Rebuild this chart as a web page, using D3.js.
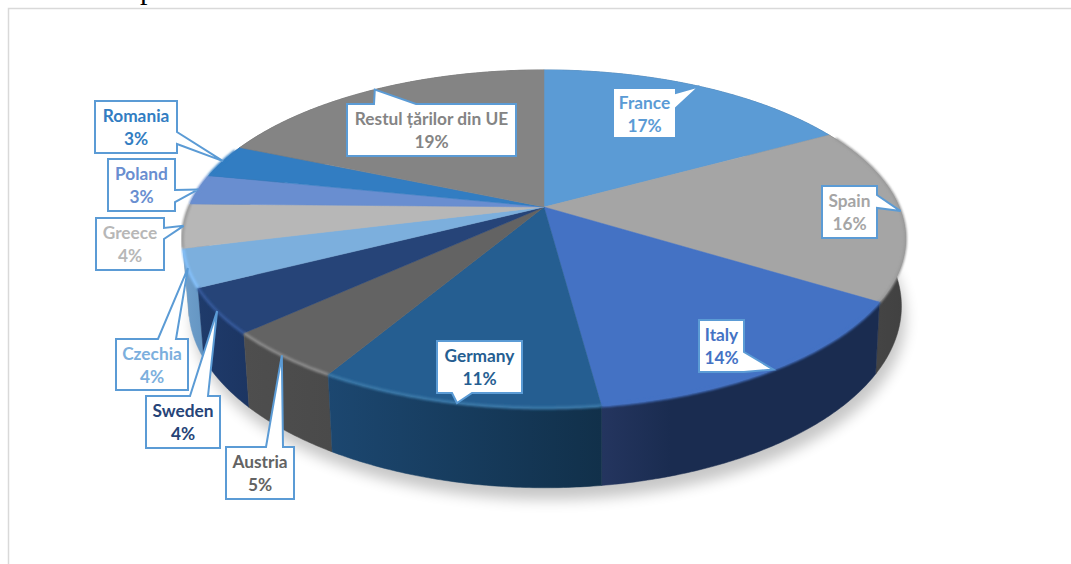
<!DOCTYPE html>
<html lang="ro">
<head>
<meta charset="utf-8">
<title>Pie</title>
<script src="https://d3js.org/d3.v7.min.js"></script>
<style>
  html, body { margin: 0; padding: 0; background: #fff; overflow: hidden; }
  svg { display: block; }
  .callout text { font-family: Lato, "Open Sans", sans-serif; font-weight: 700; font-size: 17.3px; text-anchor: middle; }
  .clipped { font-family: "Liberation Serif", serif; font-size: 30px; fill: #000; }
</style>
</head>
<body>
<svg width="1071" height="564"></svg>
<script>
// shares, clockwise from 12 o'clock
var countries = ["France", "Spain", "Italy", "Germany", "Austria", "Sweden", "Czechia", "Greece", "Poland", "Romania", "Restul țărilor din UE"];
var shares = [17.0, 16.8, 14.1, 10.6, 4.7, 4.3, 3.6, 4.2, 2.9, 3.2, 18.6];
// as printed on the chart
var printedPct = ["17%", "16%", "14%", "11%", "5%", "4%", "4%", "4%", "3%", "3%", "19%"];

var topColors = ["#5b9bd5", "#a5a5a5", "#4472c4", "#255e91", "#636363", "#264478", "#7cafdd", "#b7b7b7", "#698ed0", "#327dc2", "#848484"];
var sideLeft = ["#3d6c96", "#4a4a4a", "#24355f", "#1c4770", "#4e4e4e", "#1f3b6b", "#6f9fcb", "#9a9a9a", "#4a6491", "#235888", "#5c5c5c"];
var sideRight = ["#3d6c96", "#414141", "#1a2c50", "#11304a", "#4a4a4a", "#1c3562", "#6495c2", "#9a9a9a", "#4a6491", "#235888", "#5c5c5c"];
var sideBend = [1, 1, 0.25, 1, 1, 1, 1, 1, 1, 1, 1];
var rimColors = ["#5b9bd5", "#9c9c9c", "#4472c4", "#3a78a8", "#8a8a8a", "#34589a", "#84c0fa", "#9e9e9e", "#698ed0", "#327dc2", "#848484"];

// callout boxes: x0, y0, x1, y1, edge the wedge sits on, wedge start, wedge end
var boxes = [
  [613, 88, 676, 138, "right", 93, 108],
  [822, 186, 877, 238, "right", 195, 208],
  [699, 320, 744, 372, "right", 352, 372],
  [437, 341, 522, 393, "bottom", 452, 472],
  [226, 447, 294, 499, "top", 266, 283],
  [146, 396, 220, 448, "top", 190, 208],
  [116, 339, 188, 390, "top", 158, 176],
  [96, 218, 164, 270, "right", 228, 239],
  [108, 159, 175, 211, "right", 190, 202],
  [95, 101, 177, 153, "right", 132, 144],
  [347, 104, 516, 156, "top", 374, 416]
];

var svg = d3.select("svg");
var defs = svg.append("defs");

var soft = defs.append("filter").attr("id", "soft").attr("x", "-10%").attr("y", "-10%").attr("width", "120%").attr("height", "120%");
soft.append("feGaussianBlur").attr("stdDeviation", 7);
var rimBlur = defs.append("filter").attr("id", "rimBlur").attr("x", "-10%").attr("y", "-10%").attr("width", "120%").attr("height", "120%");
rimBlur.append("feGaussianBlur").attr("stdDeviation", 1);

// page frame the chart object sits in
svg.append("path").attr("d", "M8.5,564V8.5H1071").attr("fill", "none").attr("stroke", "#d9d9d9").attr("stroke-width", 1.5);

// leftover of the document text above the chart, cut at the frame
var clip = defs.append("clipPath").attr("id", "topClip");
clip.append("rect").attr("x", 0).attr("y", 0).attr("width", 1071).attr("height", 8);
var leftover = svg.append("g").attr("clip-path", "url(#topClip)");
leftover.append("text").attr("class", "clipped").attr("x", 140).attr("y", -1).text("p");
leftover.append("text").attr("class", "clipped").attr("x", 217).attr("y", -6).text("g");
leftover.append("text").attr("class", "clipped").attr("x", 536).attr("y", -5).text(",");

// perspective disc: unit circle -> screen
var k = 0.189;
var topDisc = { cx: 544, cy: 207, b: 355, a: 163 };
var baseDisc = { cx: 545, cy: 272, b: 350, a: 175 };

function project(disc, angle, r) {
  var u = r * Math.sin(angle), v = -r * Math.cos(angle), w = 1 - k * v;
  return [disc.cx + disc.b * u / w, disc.cy + disc.a * v / w];
}
function arcPoints(disc, a0, a1) {
  var n = Math.max(2, Math.ceil((a1 - a0) / 0.01));
  return d3.range(n + 1).map(function(i) { return project(disc, a0 + (a1 - a0) * i / n, 1); });
}

var pie = d3.pie().sort(null).value(function(d) { return d; });
var slices = pie(shares);
var line = d3.line();

// shadow under the pie
svg.append("path")
  .attr("d", line(arcPoints(baseDisc, 0, 2 * Math.PI)) + "Z")
  .attr("transform", "translate(4,12)")
  .attr("fill", "#000").attr("opacity", 0.22)
  .attr("filter", "url(#soft)");

// side walls, far ones first
var sideOrder = d3.range(slices.length).sort(function(p, q) {
  return -Math.cos((slices[p].startAngle + slices[p].endAngle) / 2) - -Math.cos((slices[q].startAngle + slices[q].endAngle) / 2);
});
sideOrder.forEach(function(i) {
  var d = slices[i];
  var g = defs.append("linearGradient").attr("id", "side" + i);
  g.append("stop").attr("offset", 0).attr("stop-color", sideLeft[i]);
  g.append("stop").attr("offset", sideBend[i]).attr("stop-color", sideRight[i]);
  var t = arcPoints(topDisc, d.startAngle, d.endAngle);
  var b = arcPoints(baseDisc, d.startAngle, d.endAngle);
  svg.append("path")
    .attr("d", line(t.concat(b.slice().reverse())) + "Z")
    .attr("fill", "url(#side" + i + ")")
    .attr("stroke", "url(#side" + i + ")").attr("stroke-width", 0.5);
});

// top face
var face = svg.append("g");
slices.forEach(function(d, i) {
  face.append("path")
    .attr("d", line([[topDisc.cx, topDisc.cy]].concat(arcPoints(topDisc, d.startAngle, d.endAngle))) + "Z")
    .attr("fill", topColors[i])
    .attr("stroke", topColors[i]).attr("stroke-width", 0.5);
});

// bevel along the rim
slices.forEach(function(d, i) {
  var a0 = Math.max(d.startAngle, Math.PI * 0.35), a1 = Math.min(d.endAngle, Math.PI * 1.62);
  if (a1 <= a0) return;
  svg.append("path")
    .attr("d", line(arcPoints(topDisc, a0, a1)))
    .attr("fill", "none")
    .attr("stroke", rimColors[i]).attr("stroke-width", 3)
    .attr("filter", "url(#rimBlur)");
});

// callouts, wedge tip sits on the rim at the middle of each slice
function calloutPath(box, tip) {
  var x0 = box[0], y0 = box[1], x1 = box[2], y1 = box[3], e = box[4], s = box[5], t = box[6];
  var pts;
  if (e === "right") pts = [[x0, y0], [x1, y0], [x1, s], tip, [x1, t], [x1, y1], [x0, y1]];
  else if (e === "top") pts = [[x0, y0], [s, y0], tip, [t, y0], [x1, y0], [x1, y1], [x0, y1]];
  else pts = [[x0, y0], [x1, y0], [x1, y1], [t, y1], tip, [s, y1], [x0, y1]];
  return line(pts) + "Z";
}

var callouts = svg.selectAll(".callout").data(slices).enter().append("g").attr("class", "callout");
callouts.append("path")
  .attr("d", function(d, i) { return calloutPath(boxes[i], project(topDisc, (d.startAngle + d.endAngle) / 2, 1)); })
  .attr("fill", "#fff").attr("stroke", "#5b9bd5").attr("stroke-width", 2).attr("stroke-linejoin", "miter");
callouts.append("text")
  .attr("x", function(d, i) { return (boxes[i][0] + boxes[i][2]) / 2; })
  .attr("y", function(d, i) { return boxes[i][1] + 21; })
  .attr("fill", function(d, i) { return topColors[i]; })
  .text(function(d, i) { return countries[i]; });
callouts.append("text")
  .attr("x", function(d, i) { return (boxes[i][0] + boxes[i][2]) / 2; })
  .attr("y", function(d, i) { return boxes[i][1] + 44; })
  .attr("fill", function(d, i) { return topColors[i]; })
  .text(function(d, i) { return printedPct[i]; });
</script>
</body>
</html>
